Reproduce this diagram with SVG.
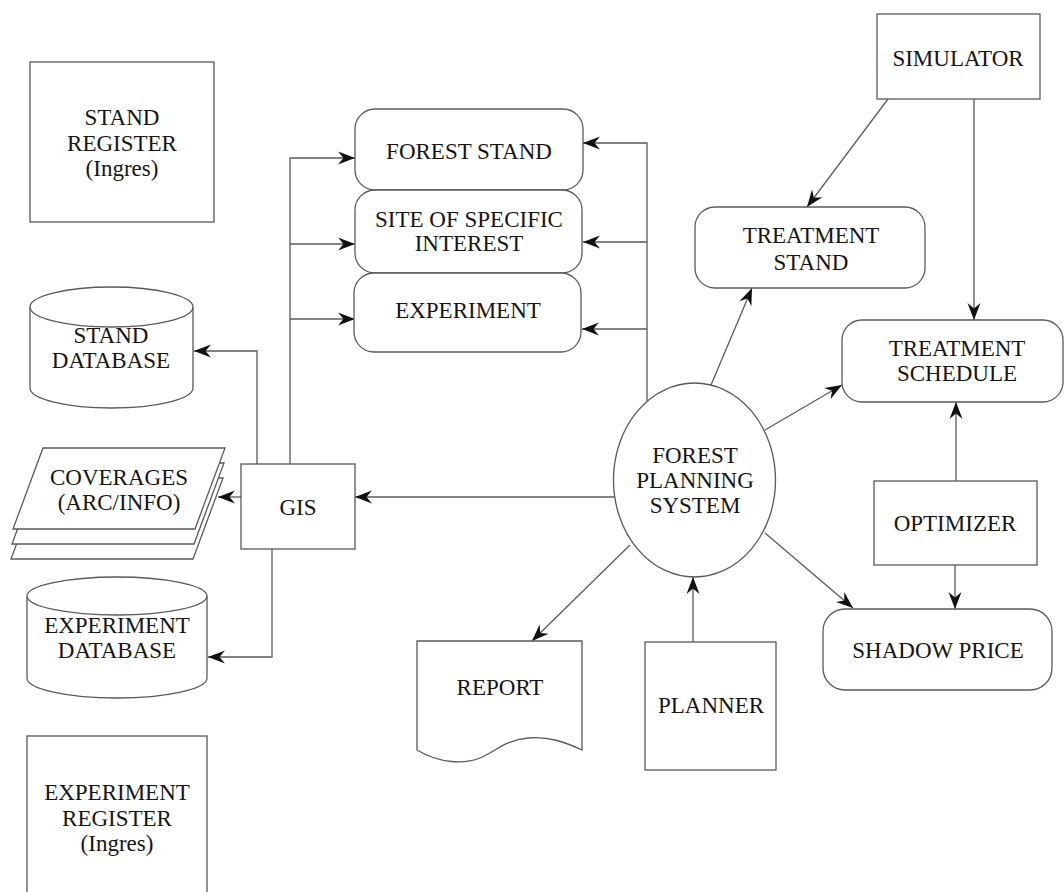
<svg xmlns="http://www.w3.org/2000/svg" width="1064" height="892" viewBox="0 0 1064 892">
  <style>
    .shape { fill: #ffffff; stroke: #5a5a5a; stroke-width: 1.3; }
    .wire { fill: none; stroke: #5a5a5a; stroke-width: 1.3; }
    .lbl { font-family: "Liberation Serif", "Times New Roman", serif; font-size: 23px; fill: #151515; text-anchor: middle; }
  </style>
  <defs>
    <marker id="arrow" markerUnits="userSpaceOnUse" markerWidth="18" markerHeight="14" refX="17" refY="7" orient="auto">
      <path d="M17,7 L0,0.5 L5.5,7 L0,13.5 Z" fill="#111111"/>
    </marker>
  </defs>
  <rect width="1064" height="892" fill="#ffffff"/>

  <!-- connectors -->
  <g id="connectors">
    <!-- GIS outputs -->
    <polyline class="wire" points="257,464 257,351 194,351" marker-end="url(#arrow)"/>
    <polyline class="wire" points="290,464 290,158 355,158" marker-end="url(#arrow)"/>
    <line class="wire" x1="290" y1="244" x2="355" y2="244" marker-end="url(#arrow)"/>
    <line class="wire" x1="290" y1="319" x2="355" y2="319" marker-end="url(#arrow)"/>
    <line class="wire" x1="241" y1="497" x2="218" y2="497" marker-end="url(#arrow)"/>
    <polyline class="wire" points="272,549 272,657 208,657" marker-end="url(#arrow)"/>
    <!-- planning system outputs -->
    <line class="wire" x1="614" y1="497" x2="355" y2="497" marker-end="url(#arrow)"/>
    <polyline class="wire" points="647,401 647,143 583,143" marker-end="url(#arrow)"/>
    <line class="wire" x1="647" y1="242" x2="583" y2="242" marker-end="url(#arrow)"/>
    <line class="wire" x1="647" y1="329" x2="582" y2="329" marker-end="url(#arrow)"/>
    <line class="wire" x1="711" y1="385" x2="752" y2="288" marker-end="url(#arrow)"/>
    <line class="wire" x1="765" y1="430" x2="842" y2="385" marker-end="url(#arrow)"/>
    <line class="wire" x1="765" y1="533" x2="853" y2="608" marker-end="url(#arrow)"/>
    <line class="wire" x1="630" y1="545" x2="532" y2="641" marker-end="url(#arrow)"/>
    <line class="wire" x1="693" y1="642" x2="693" y2="577" marker-end="url(#arrow)"/>
    <!-- simulator and optimizer -->
    <line class="wire" x1="888" y1="99" x2="807" y2="207" marker-end="url(#arrow)"/>
    <line class="wire" x1="974" y1="99" x2="974" y2="320" marker-end="url(#arrow)"/>
    <line class="wire" x1="956" y1="481" x2="956" y2="402" marker-end="url(#arrow)"/>
    <line class="wire" x1="955" y1="565" x2="955" y2="609" marker-end="url(#arrow)"/>
  </g>

  <g id="stand-register">
    <rect class="shape" x="30" y="62" width="184" height="160"/>
    <text class="lbl" x="122" y="125">STAND</text>
    <text class="lbl" x="122" y="151">REGISTER</text>
    <text class="lbl" x="122" y="176">(Ingres)</text>
  </g>

  <g id="stand-database">
    <path class="shape" d="M30,307 V388 A81.5,20 0 0 0 193,388 V307"/>
    <ellipse class="shape" cx="111.5" cy="307" rx="81.5" ry="20"/>
    <text class="lbl" x="111" y="343">STAND</text>
    <text class="lbl" x="111" y="368">DATABASE</text>
  </g>

  <g id="coverages">
    <polygon class="shape" points="41,478 223,478 193,559 11,559"/>
    <polygon class="shape" points="42,463 224,463 194,544 12,544"/>
    <polygon class="shape" points="43,448 225,448 195,529 13,529"/>
    <text class="lbl" x="119" y="485">COVERAGES</text>
    <text class="lbl" x="119" y="510">(ARC/INFO)</text>
  </g>

  <g id="gis">
    <rect class="shape" x="241" y="464" width="114" height="85"/>
    <text class="lbl" x="298" y="515">GIS</text>
  </g>

  <g id="experiment-database">
    <path class="shape" d="M27,596 V678 A90,20 0 0 0 207,678 V596"/>
    <ellipse class="shape" cx="117" cy="596" rx="90" ry="19"/>
    <text class="lbl" x="117" y="633">EXPERIMENT</text>
    <text class="lbl" x="117" y="658">DATABASE</text>
  </g>

  <g id="experiment-register">
    <rect class="shape" x="27" y="736" width="180" height="170"/>
    <text class="lbl" x="117" y="800">EXPERIMENT</text>
    <text class="lbl" x="117" y="826">REGISTER</text>
    <text class="lbl" x="117" y="851">(Ingres)</text>
  </g>

  <g id="forest-stand">
    <rect class="shape" x="355" y="109" width="228" height="81" rx="20"/>
    <text class="lbl" x="469" y="159">FOREST STAND</text>
  </g>

  <g id="site-of-specific-interest">
    <rect class="shape" x="355" y="190" width="227" height="83" rx="20"/>
    <text class="lbl" x="469" y="227">SITE OF SPECIFIC</text>
    <text class="lbl" x="469" y="251">INTEREST</text>
  </g>

  <g id="experiment">
    <rect class="shape" x="354" y="273" width="227" height="79" rx="20"/>
    <text class="lbl" x="468" y="318">EXPERIMENT</text>
  </g>

  <g id="forest-planning-system">
    <ellipse class="shape" cx="694.5" cy="480" rx="81" ry="97"/>
    <text class="lbl" x="695" y="463">FOREST</text>
    <text class="lbl" x="695" y="488">PLANNING</text>
    <text class="lbl" x="695" y="513">SYSTEM</text>
  </g>

  <g id="report">
    <path class="shape" d="M417,641 H582 V750 C565,742 548,736 528,738 C505,740 495,752 480,758 C465,764 440,764 417,750 Z"/>
    <text class="lbl" x="500" y="695">REPORT</text>
  </g>

  <g id="planner">
    <rect class="shape" x="645" y="642" width="131" height="128"/>
    <text class="lbl" x="711" y="713">PLANNER</text>
  </g>

  <g id="simulator">
    <rect class="shape" x="877" y="14" width="163" height="85"/>
    <text class="lbl" x="958" y="66">SIMULATOR</text>
  </g>

  <g id="treatment-stand">
    <rect class="shape" x="695" y="207" width="230" height="81" rx="20"/>
    <text class="lbl" x="811" y="243">TREATMENT</text>
    <text class="lbl" x="811" y="270">STAND</text>
  </g>

  <g id="treatment-schedule">
    <rect class="shape" x="842" y="320" width="221" height="82" rx="20"/>
    <text class="lbl" x="957" y="356">TREATMENT</text>
    <text class="lbl" x="957" y="381">SCHEDULE</text>
  </g>

  <g id="optimizer">
    <rect class="shape" x="874" y="481" width="163" height="84"/>
    <text class="lbl" x="955" y="531">OPTIMIZER</text>
  </g>

  <g id="shadow-price">
    <rect class="shape" x="823" y="609" width="229" height="81" rx="22"/>
    <text class="lbl" x="938" y="658">SHADOW PRICE</text>
  </g>
</svg>
